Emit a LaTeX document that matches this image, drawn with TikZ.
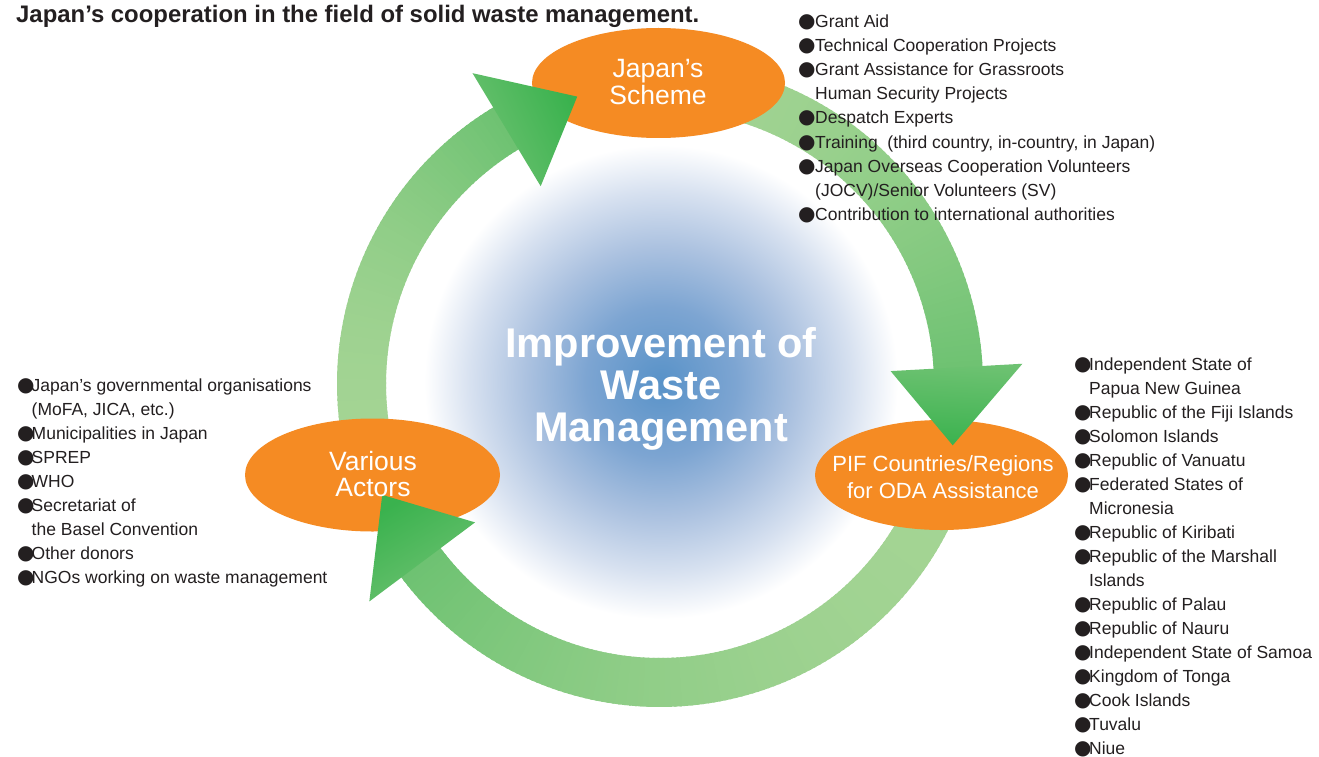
\documentclass[tikz,border=0pt]{standalone}
\usepackage{fontspec}
\setmainfont{Liberation Sans}
\newfontfamily\dejavu{DejaVu Sans}
\usetikzlibrary{calc,shapes.geometric}
\definecolor{orng}{RGB}{245,139,35}
\definecolor{txt}{RGB}{35,31,32}
\definecolor{glight}{RGB}{164,212,148}
\definecolor{gmid}{RGB}{110,194,114}
\definecolor{gdark}{RGB}{58,178,78}
\definecolor{glowa}{RGB}{88,146,200}
\definecolor{glowb}{RGB}{125,165,210}
\definecolor{glowc}{RGB}{172,194,224}
\definecolor{glowd}{RGB}{215,225,240}
\pgfdeclareradialshading{glow}{\pgfpoint{0bp}{0bp}}{color(0bp)=(glowa); color(75bp)=(glowb); color(135bp)=(glowc); color(190bp)=(glowd); color(236bp)=(white); color(240bp)=(white)}
\def\bw{16pt}
\newcommand\bl{\makebox[\bw][l]{\dejavu\fontsize{20}{20}\selectfont ●}}
\newcommand\ind{\hspace*{\bw}}
\def\rin{274}
\def\rout{323}
\newcommand\ringarc[3]{%
  \foreach \k in {1,...,#3}{%
    \pgfmathsetmacro\stp{(#2-#1)/#3}%
    \pgfmathsetmacro\aA{#1+\stp*(\k-1)}%
    \pgfmathsetmacro\aB{#1+\stp*\k+0.4}%
    \pgfmathsetmacro\pp{100*((\k-0.5)/#3)^2}%
    \colorlet{segc}{gmid!\pp!glight}%
    \fill[segc] ($(C)+(\aA:\rin)$) -- ($(C)+(\aA:\rout)$) -- ($(C)+(\aB:\rout)$) -- ($(C)+(\aB:\rin)$) -- cycle;
  }}
\newcommand\arrowhead[1]{%
  \pgfmathsetmacro\ta{#1+96}%
  \pgfmathsetmacro\sa{-(#1+96)-90}%
  \shade[bottom color=gmid, top color=gdark, shading angle=\sa]
    ($(C)+(#1:231)$) -- ($(C)+(#1:363)$) -- ($(C)+(#1:297)+(\ta:78)$) -- cycle;}
\begin{document}
\begin{tikzpicture}[x=1pt,y=-1pt,
  ell/.style={ellipse, fill=orng, draw=none, inner sep=0pt},
  elltxt/.style={text=white, font=\fontsize{26.5}{27}\selectfont, anchor=base, inner sep=0pt},
  pift/.style={text=white, font=\fontsize{22}{24}\selectfont, anchor=base, inner sep=0pt},
  centxt/.style={text=white, font=\bfseries\fontsize{41.5}{42}\selectfont, anchor=base, inner sep=0pt},
  lst/.style={text=txt, font=\fontsize{17.5}{24}\selectfont, anchor=base west, inner sep=0pt},
  ttl/.style={text=txt, font=\bfseries\fontsize{23.9}{26}\selectfont, anchor=base west, inner sep=0pt}]
\useasboundingbox (0,0) rectangle (1319,757);
\fill[white] (0,0) rectangle (1319,757);
\coordinate (C) at (660,384);
% glow
\node[inner sep=0pt, anchor=center] (glow) at (661,382) {\pgfuseshading{glow}};
% ring shafts
\ringarc{165}{238.9}{74}
\ringarc{262}{356.8}{95}
\ringarc{15}{143.2}{128}
% ellipses
\node[ell, minimum width=253pt, minimum height=110pt] (js) at (658.5,83) {};
\node[ell, minimum width=255pt, minimum height=113pt] (va) at (372.5,475) {};
\node[ell, minimum width=253pt, minimum height=110pt] (pif) at (941.5,475) {};
% arrowheads
\arrowhead{238.9}
\arrowhead{356.8}
\arrowhead{143.2}
% ellipse texts
\node[elltxt] (js1) at (658,78) {Japan’s};
\node[elltxt] (js2) at (658,105) {Scheme};
\node[elltxt] (va1) at (373,470) {Various};
\node[elltxt] (va2) at (373,496) {Actors};
\node[pift] (pif1) at (943,471) {PIF Countries/Regions};
\node[pift] (pif2) at (943,498) {for ODA Assistance};
% centre text
\node[centxt] (c1) at (661,357) {Improvement of};
\node[centxt] (c2) at (661,399) {Waste};
\node[centxt] (c3) at (661,441) {Management};
% title
\node[ttl] (title) at (16,23) {Japan’s cooperation in the field of solid waste management.};
% top-right list
\def\bw{17pt}
\foreach \t [count=\i] in {\bl Grant Aid, \bl Technical Cooperation Projects, \bl Grant Assistance for Grassroots, \ind Human Security Projects, \bl Despatch Experts, {\bl Training\ \ (third country, in-country, in Japan)}, \bl Japan Overseas Cooperation Volunteers, \ind(JOCV)/Senior Volunteers (SV), \bl Contribution to international authorities}
  \node[lst] (tr\i) at (798,{28+24*(\i-1)}) {\t};
% left list
\def\bw{14.5pt}
\foreach \t [count=\i] in {\bl Japan’s governmental organisations, {\ind(MoFA, JICA, etc.)}, \bl Municipalities in Japan, \bl SPREP, \bl WHO, \bl Secretariat of, \ind the Basel Convention, \bl Other donors, \bl NGOs working on waste management}
  \node[lst] (lf\i) at (17,{391+24*(\i-1)}) {\t};
% right list
\def\bw{15pt}
\foreach \t [count=\i] in {\bl Independent State of, \ind Papua New Guinea, \bl Republic of the Fiji Islands, \bl Solomon Islands, \bl Republic of Vanuatu, \bl Federated States of, \ind Micronesia, \bl Republic of Kiribati, \bl Republic of the Marshall, \ind Islands, \bl Republic of Palau, \bl Republic of Nauru, \bl Independent State of Samoa, \bl Kingdom of Tonga, \bl Cook Islands, \bl Tuvalu, \bl Niue}
  \node[lst] (rt\i) at (1074,{370+24*(\i-1)}) {\t};
\end{tikzpicture}
\end{document}
